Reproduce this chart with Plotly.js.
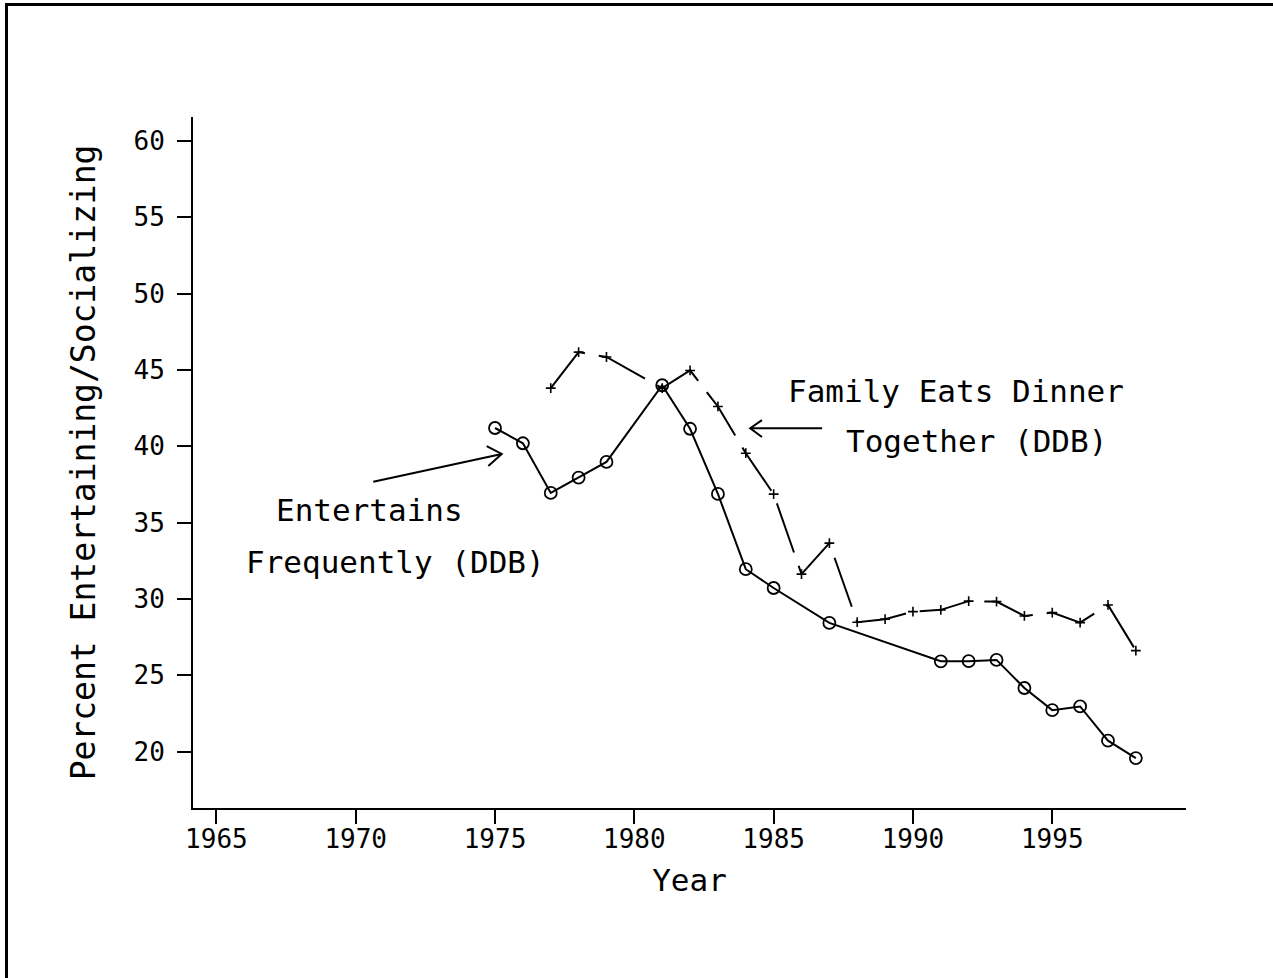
<!DOCTYPE html>
<html>
<head>
<meta charset="utf-8">
<script src="https://cdn.plot.ly/plotly-3.0.1.min.js"></script>
<style>
  html, body { margin: 0; padding: 0; background: #fff; }
  #wrap { position: relative; width: 1273px; height: 978px; }
  #chart { width: 1273px; height: 978px; }
  #frame { position: absolute; left: 5px; top: 3px; width: 1265px; height: 980px;
           border-left: 3px solid #000; border-top: 3px solid #000; border-right: 3px solid #000;
           pointer-events: none; }
</style>
</head>
<body>
<div id="wrap">
  <div id="chart"></div>
  <div id="frame"></div>
</div>
<script>
// Entertains Frequently (DDB)
const entYears = [1975, 1976, 1977, 1978, 1979, 1981, 1982, 1983, 1984, 1985, 1987, 1991, 1992, 1993, 1994, 1995, 1996, 1997, 1998];
const entValues = [41.2, 40.2, 36.95, 37.95, 38.98, 44.0, 41.15, 36.88, 31.95, 30.72, 28.43, 25.92, 25.93, 26.01, 24.17, 22.72, 22.96, 20.72, 19.58];

// Family Eats Dinner Together (DDB)
const famYears = [1977, 1978, 1979, 1981, 1982, 1983, 1984, 1985, 1986, 1987, 1988, 1989, 1990, 1991, 1992, 1993, 1994, 1995, 1996, 1997, 1998];
const famValues = [43.81, 46.17, 45.85, 43.81, 44.97, 42.61, 39.55, 36.87, 31.63, 33.66, 28.48, 28.68, 29.17, 29.29, 29.86, 29.83, 28.89, 29.11, 28.45, 29.61, 26.62];

const xTicks = [1965, 1970, 1975, 1980, 1985, 1990, 1995];
const yTicks = [20, 25, 30, 35, 40, 45, 50, 55, 60];

const FONT = "DejaVu Sans Mono, Liberation Mono, monospace";

const traces = [
  {
    x: entYears, y: entValues, type: 'scatter', mode: 'lines+markers',
    name: 'Entertains Frequently (DDB)',
    line: { color: '#000', width: 2 },
    marker: { symbol: 'circle-open', size: 12, color: '#000', line: { width: 1.8, color: '#000' } }
  },
  {
    x: famYears, y: famValues, type: 'scatter', mode: 'lines+markers',
    name: 'Family Eats Dinner Together (DDB)',
    line: { color: '#000', width: 2, dash: '52px,14px' },
    marker: { symbol: 'cross-thin-open', size: 7, color: '#000', line: { width: 1.6, color: '#000' } }
  }
];

const layout = {
  width: 1273, height: 978,
  margin: { l: 193, r: 87, t: 117, b: 170 },
  paper_bgcolor: '#fff', plot_bgcolor: '#fff',
  showlegend: false,
  font: { family: FONT, color: '#000' },
  xaxis: {
    range: [1964.16, 1999.8], tickvals: xTicks, ticktext: xTicks.map(String),
    showgrid: false, zeroline: false, showline: true, linecolor: '#000', linewidth: 2,
    ticks: 'outside', ticklen: 14, tickwidth: 2, tickcolor: '#000',
    ticklabelstandoff: -7,
    tickfont: { family: FONT, size: 26, color: '#000' },
    title: { text: 'Year', font: { family: FONT, size: 31, color: '#000' }, standoff: 16 }
  },
  yaxis: {
    range: [16.31, 61.57], tickvals: yTicks, ticktext: yTicks.map(String),
    showgrid: false, zeroline: false, showline: true, linecolor: '#000', linewidth: 2,
    ticks: 'outside', ticklen: 14, tickwidth: 2, tickcolor: '#000',
    ticklabelstandoff: 7,
    tickfont: { family: FONT, size: 26, color: '#000' },
    title: { text: 'Percent Entertaining/Socializing', font: { family: FONT, size: 33, color: '#000' }, standoff: 28 }
  },
  annotations: [
    { xref: 'x', yref: 'y', x: 1991.53, y: 43.62, text: 'Family Eats Dinner', showarrow: false,
      font: { family: FONT, size: 31, color: '#000' }, xanchor: 'center', yanchor: 'middle' },
    { xref: 'x', yref: 'y', x: 1992.28, y: 40.35, text: 'Together (DDB)', showarrow: false,
      font: { family: FONT, size: 31, color: '#000' }, xanchor: 'center', yanchor: 'middle' },
    { xref: 'x', yref: 'y', x: 1970.51, y: 35.83, text: 'Entertains', showarrow: false,
      font: { family: FONT, size: 31, color: '#000' }, xanchor: 'center', yanchor: 'middle' },
    { xref: 'x', yref: 'y', x: 1971.41, y: 32.42, text: 'Frequently (DDB)', showarrow: false,
      font: { family: FONT, size: 31, color: '#000' }, xanchor: 'center', yanchor: 'middle' }
  ],
  shapes: [
    // Family arrow: shaft + open head
    { type: 'path', xref: 'x', yref: 'y', path: 'M 1986.74,41.18 L 1984.16,41.18', line: { color: '#000', width: 2 } },
    { type: 'path', xref: 'x', yref: 'y', path: 'M 1984.58,41.72 L 1984.16,41.18 L 1984.58,40.61', line: { color: '#000', width: 2 } },
    // Entertains arrow
    { type: 'path', xref: 'x', yref: 'y', path: 'M 1970.63,37.68 L 1975.24,39.50', line: { color: '#000', width: 2 } },
    { type: 'path', xref: 'x', yref: 'y', path: 'M 1974.70,40.02 L 1975.24,39.50 L 1974.76,38.71', line: { color: '#000', width: 2 } }
  ]
};

Plotly.newPlot('chart', traces, layout, { displayModeBar: false, staticPlot: true });
</script>
</body>
</html>
